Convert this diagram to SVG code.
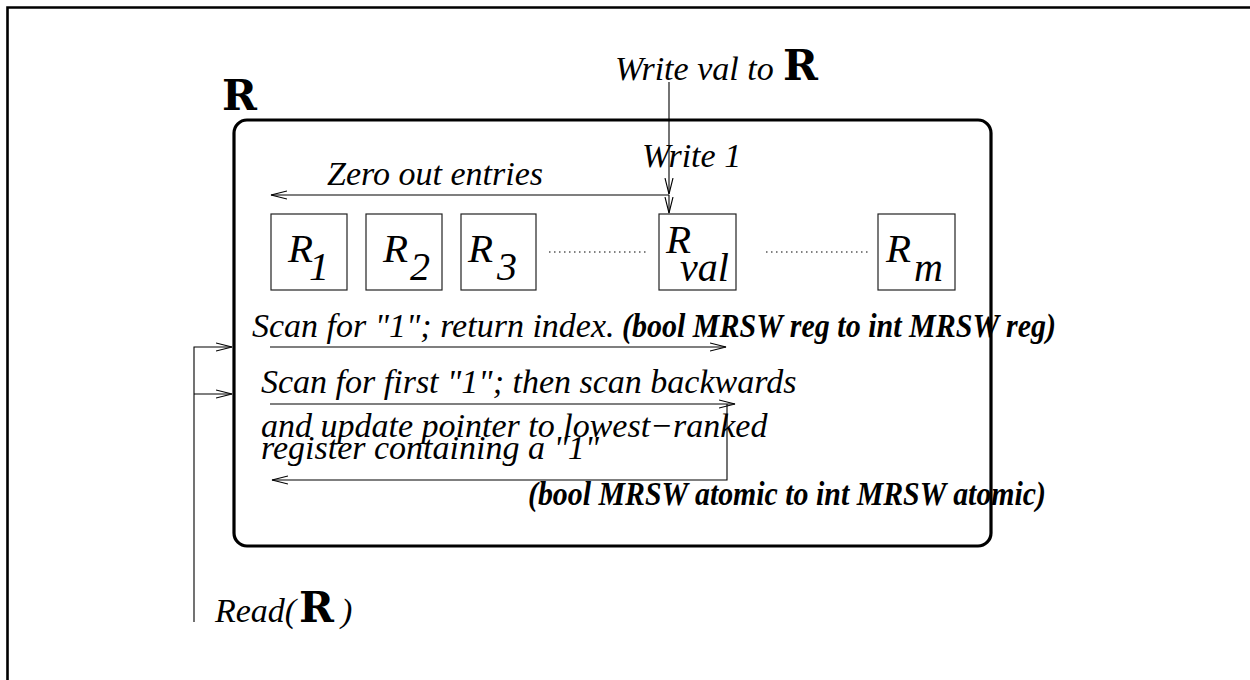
<svg xmlns="http://www.w3.org/2000/svg" width="1250" height="680" viewBox="0 0 1250 680">
<style>
.it{font-family:"Liberation Serif","Times New Roman",serif;font-style:italic;font-size:34px;fill:#000}
.bi{font-family:"Liberation Serif","Times New Roman",serif;font-style:italic;font-weight:bold;font-size:33px;fill:#000}
.bR{font-family:"DejaVu Serif","Liberation Serif",serif;font-weight:bold;font-size:42px;fill:#000}
.rg{font-family:"Liberation Serif","Times New Roman",serif;font-style:italic;font-size:41px;fill:#000}
.sb{font-family:"Liberation Serif","Times New Roman",serif;font-style:italic;font-size:40px;fill:#000}
.box{fill:#fff;stroke:#222;stroke-width:1.2}
.ln{fill:none;stroke:#000;stroke-width:1.1}
.dot{fill:none;stroke:#000;stroke-width:1;stroke-dasharray:1.5 3.5}
</style>
<defs>
<marker id="ah" markerUnits="userSpaceOnUse" markerWidth="20" markerHeight="12" refX="16" refY="5" orient="auto">
<path d="M0,1 L16,5 L0,9" fill="none" stroke="#000" stroke-width="1.1"/>
</marker>
</defs>
<rect width="1250" height="680" fill="#fff"/>
<g id="frame">
<path d="M7.5,680 V7.5 H1250" fill="none" stroke="#000" stroke-width="2.6"/>
</g>
<g id="container-R">
<rect x="234" y="120" width="757" height="426" rx="13" ry="13" fill="none" stroke="#000" stroke-width="3.2"/>
<text class="bR" x="222" y="110">R</text>
</g>
<g id="reg-R1">
<rect class="box" x="271" y="214" width="76" height="76"/>
<text class="rg" x="288" y="262">R</text><text class="sb" x="309" y="280">1</text>
</g>
<g id="reg-R2">
<rect class="box" x="366" y="214" width="76" height="76"/>
<text class="rg" x="383" y="262">R</text><text class="sb" x="410" y="280">2</text>
</g>
<g id="reg-R3">
<rect class="box" x="461" y="214" width="75" height="76"/>
<text class="rg" x="468" y="262">R</text><text class="sb" x="497" y="280">3</text>
</g>
<g id="reg-Rval">
<rect class="box" x="659" y="214" width="77" height="76"/>
<text class="rg" x="666" y="253">R</text><text class="sb" x="680" y="281">val</text>
</g>
<g id="reg-Rm">
<rect class="box" x="878" y="214" width="77" height="76"/>
<text class="rg" x="886" y="262">R</text><text class="sb" x="914" y="281">m</text>
</g>
<g id="dots">
<line class="dot" x1="549" y1="252" x2="649" y2="252"/>
<line class="dot" x1="766" y1="252" x2="868" y2="252"/>
</g>
<g id="labels">
<text class="it" x="615" y="80">Write val to</text><text class="bR" x="783" y="80">R</text>
<text class="it" x="642" y="167">Write 1</text>
<text class="it" x="327" y="185">Zero out entries</text>
<text class="it" x="252" y="337">Scan for "1"; return index.</text>
<text class="bi" x="622" y="337" textLength="434" lengthAdjust="spacingAndGlyphs">(bool MRSW reg to int MRSW reg)</text>
<text class="it" x="261" y="393">Scan for first "1"; then scan backwards</text>
<text class="it" x="261" y="437">and update pointer to lowest−ranked</text>
<text class="it" x="261" y="459">register containing a "1"</text>
<text class="bi" x="528" y="505" textLength="518" lengthAdjust="spacingAndGlyphs">(bool MRSW atomic to int MRSW atomic)</text>
<text class="it" x="215" y="622">Read(</text><text class="bR" x="299" y="622">R</text><text class="it" x="341" y="622">)</text>
</g>
<g id="connectors">
<line class="ln" x1="669" y1="82" x2="669" y2="194" marker-end="url(#ah)"/>
<line class="ln" x1="669" y1="195" x2="669" y2="213" marker-end="url(#ah)"/>
<line class="ln" x1="669" y1="195" x2="271" y2="195" marker-end="url(#ah)"/>
<line class="ln" x1="270" y1="347" x2="726" y2="347" marker-end="url(#ah)"/>
<line class="ln" x1="270" y1="404" x2="735" y2="404" marker-end="url(#ah)"/>
<path class="ln" d="M727,404 V480 H272" marker-end="url(#ah)"/>
<path class="ln" d="M194,622 V347 H232" marker-end="url(#ah)"/>
<line class="ln" x1="194" y1="394" x2="232" y2="394" marker-end="url(#ah)"/>
</g>
</svg>
